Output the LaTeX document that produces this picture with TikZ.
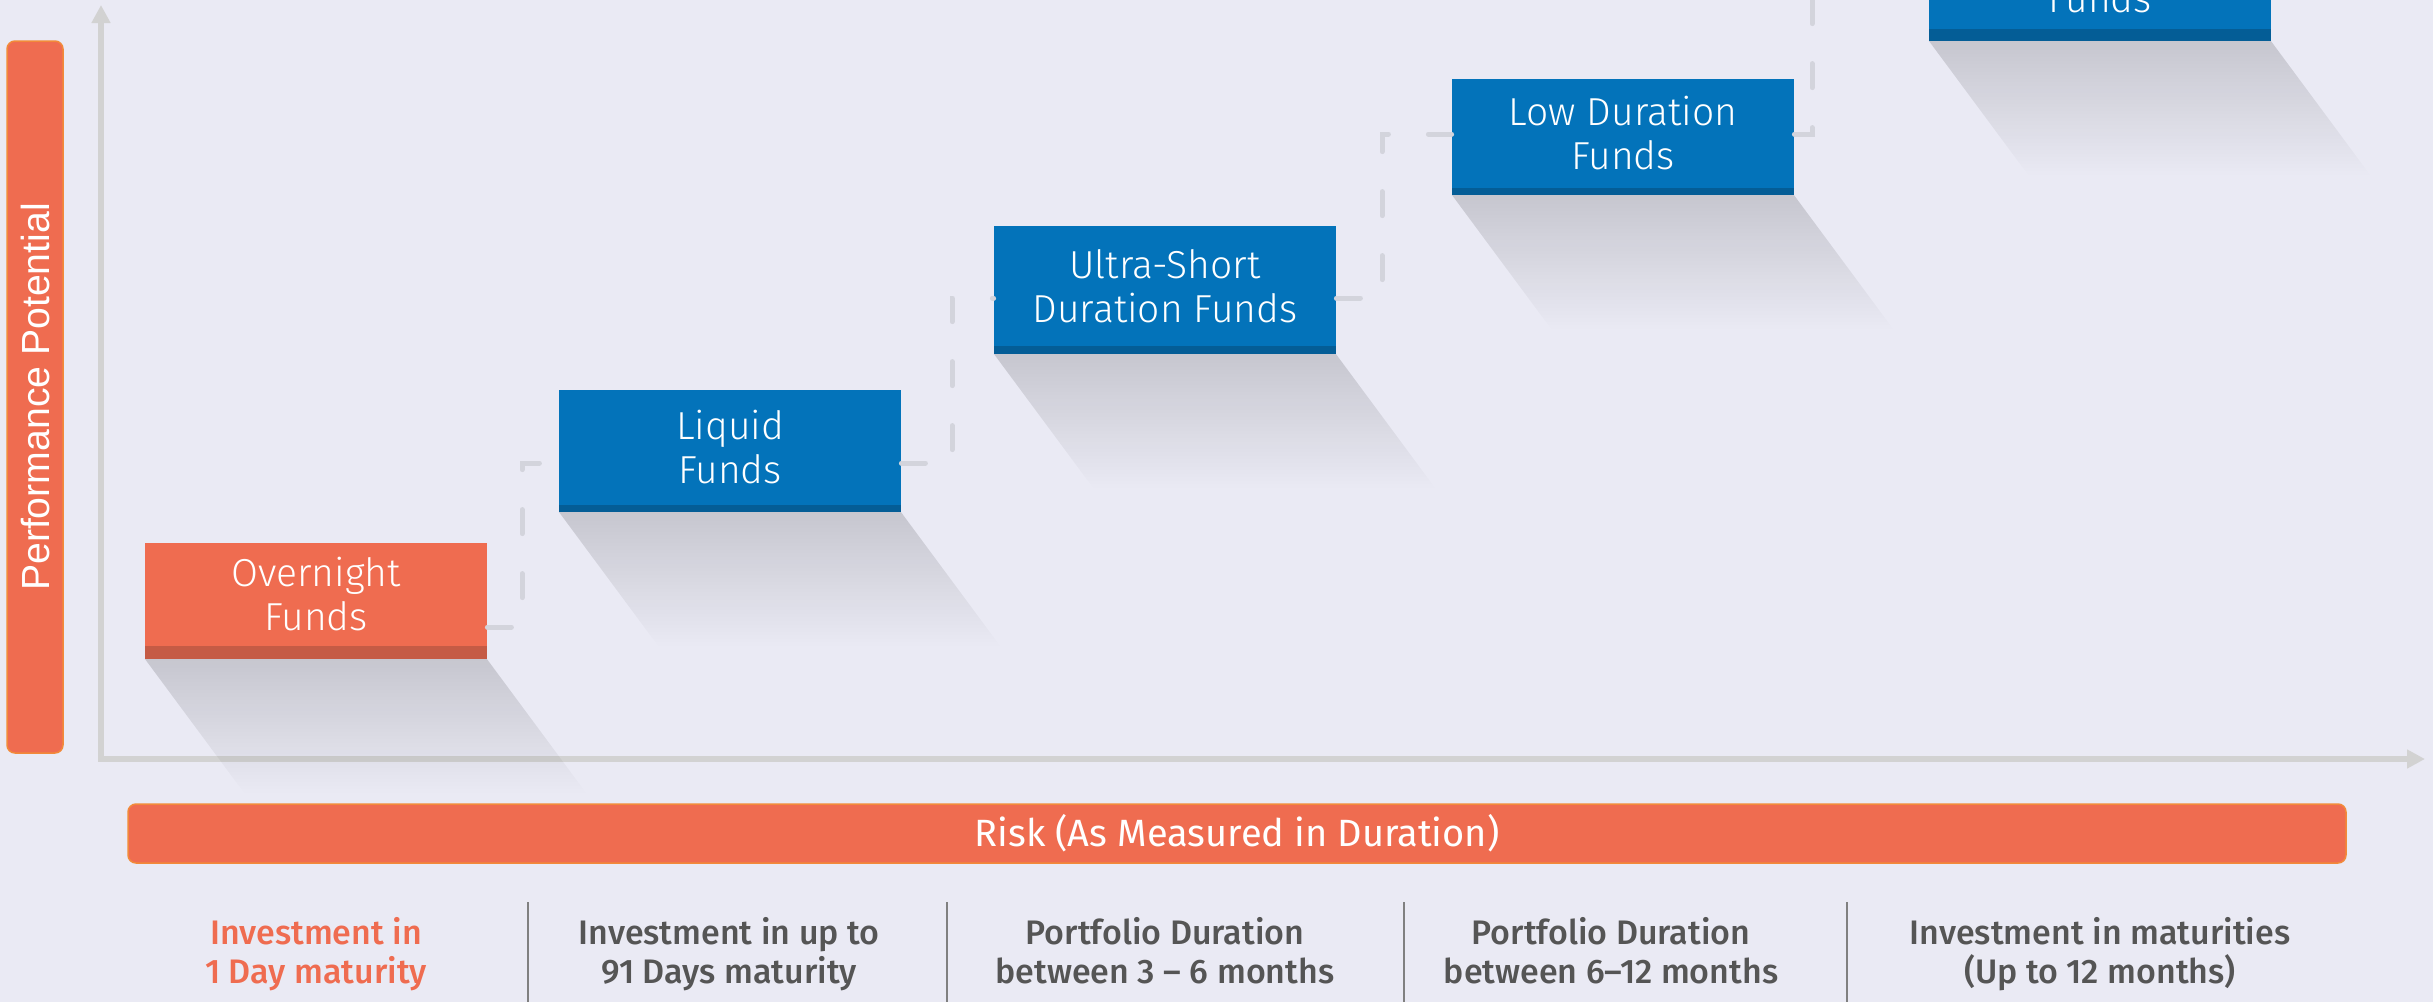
\documentclass[tikz,border=0pt]{standalone}
\usepackage{fontspec}
\setmainfont{Fira Sans}
\IfFontExistsTF{Fira Sans Light}{\newfontfamily\lightfont{Fira Sans Light}}{\newfontfamily\lightfont{Fira Sans}}
\IfFontExistsTF{Fira Sans Medium}{\newfontfamily\mediumfont{Fira Sans Medium}}{\newfontfamily\mediumfont{Fira Sans}[FakeBold=1.5]}
\newfontfamily\arialfont{Liberation Sans}
\usetikzlibrary{arrows.meta}
\usetikzlibrary{fadings}

\definecolor{pagebg}{RGB}{234,234,244}
\definecolor{fundorange}{RGB}{239,108,80}
\definecolor{orangestrip}{RGB}{197,91,69}
\definecolor{fundblue}{RGB}{3,115,186}
\definecolor{bluestrip}{RGB}{4,93,150}
\definecolor{barborder}{RGB}{242,138,58}
\definecolor{axisgray}{RGB}{210,210,210}
\definecolor{dashgray}{RGB}{211,212,220}
\definecolor{sepgray}{RGB}{128,128,128}
\definecolor{capgray}{RGB}{85,85,85}

\tikzfading[name=shadowfade, top color=transparent!0, bottom color=transparent!100]

\tikzset{
  fundbox/.style={rectangle, minimum width=171pt, inner sep=0pt, text=white, align=center,
    font=\lightfont\fontsize{19.5}{22}\selectfont},
  boxshadow/.style={fill=black, fill opacity=0.15, path fading=shadowfade},
  stepline/.style={draw=dashgray, line width=2.5pt, line cap=round, dash pattern=on 12pt off 20pt},
  axisline/.style={draw=axisgray, line width=3pt, {Triangle[length=9pt,width=9pt]}-{Triangle[length=9pt,width=9pt]}},
  labelbar/.style={fill=fundorange, draw=barborder, line width=0.75pt, rounded corners=4pt, inner sep=0pt, text=white},
  sepline/.style={draw=sepgray, line width=1pt},
  captext/.style={align=center, anchor=base, text=capgray, font=\mediumfont\fontsize{17}{19.5}\selectfont}
}

\begin{document}
\begin{tikzpicture}[x=0.5pt, y=-0.5pt]
      \useasboundingbox (0,0) rectangle (2433,1002);
      \fill [pagebg] (0,0) rectangle (2433,1002);
      \clip (0,0) rectangle (2433,1002);
      % axes
      \coordinate (ytip) at (101,5);
      \coordinate (xtip) at (2425,759);
      \draw [axisline] (ytip) |- (xtip);
      % axis labels
      \node [labelbar, minimum width=356pt, minimum height=28pt, rotate=90,
        font=\arialfont\fontsize{19.6}{21}\selectfont] (perf) at (35,397) {Performance Potential};
      \node [labelbar, minimum width=1109pt, minimum height=29.5pt,
        font=\fontsize{19}{21}\selectfont] (risk) at (1237,833.5) {Risk (As Measured in Duration)};
      % shadows
      \fill [boxshadow] (145,659) -- (487,659) -- ++(100,135) -- ++(-342,0) -- cycle;
      \fill [boxshadow] (559,512) -- (901,512) -- ++(100,135) -- ++(-342,0) -- cycle;
      \fill [boxshadow] (994,354) -- (1336,354) -- ++(100,135) -- ++(-342,0) -- cycle;
      \fill [boxshadow] (1452,195) -- (1794,195) -- ++(100,135) -- ++(-342,0) -- cycle;
      \fill [boxshadow] (1929,41) -- (2271,41) -- ++(100,135) -- ++(-342,0) -- cycle;
      % funds
      \node [fundbox, fill=fundorange, minimum height=51.5pt] (overnight) at (316,594.5) {Overnight\\Funds};
      \fill [orangestrip] (overnight.south west) rectangle ++(342,13);
      \node [fundbox, fill=fundblue, minimum height=57.5pt] (liquid) at (730,447.5) {Liquid\\Funds};
      \fill [bluestrip] (liquid.south west) rectangle ++(342,7);
      \node [fundbox, fill=fundblue, minimum height=60pt] (ultra) at (1165,286) {Ultra-Short\\Duration Funds};
      \fill [bluestrip] (ultra.south west) rectangle ++(342,8);
      \node [fundbox, fill=fundblue, minimum height=54.5pt] (lowdur) at (1623,133.5) {Low Duration\\Funds};
      \fill [bluestrip] (lowdur.south west) rectangle ++(342,7);
      \node [fundbox, fill=fundblue, minimum height=52pt] (nextfund) at (2100,-23) {};
      \fill [bluestrip] (nextfund.south west) rectangle ++(342,12);
      \node [fundbox, anchor=base] (nextfundtext) at (2100,12) {Funds};
      % steps
      \draw [stepline] (overnight.east |- 0,627) -| (522,463) -- (liquid.west |- 0,463);
      \draw [stepline] (liquid.east |- 0,463) -| (952,298) -- (ultra.west |- 0,298);
      \draw [stepline] (ultra.east |- 0,298) -| (1382,134) -- (lowdur.west |- 0,134);
      \draw [stepline] (lowdur.east |- 0,134) -| (1812,-20) -- (nextfund.west |- 0,-20);
      % maturities
      \foreach \x in {528,947,1404,1847}
        \draw [sepline] (\x,902) -- (\x,1002);
      \node [captext, text=fundorange] (day) at (316,983) {Investment in\\1 Day maturity};
      \node [captext] (days) at (729,983) {Investment in up to\\91 Days maturity};
      \node [captext] (threesix) at (1165,983) {Portfolio Duration\\between 3 – 6 months};
      \node [captext] (sixtwelve) at (1611,983) {Portfolio Duration\\between 6–12 months};
      \node [captext] (twelve) at (2100,983) {Investment in maturities\\(Up to 12 months)};
    \end{tikzpicture}
\end{document}
